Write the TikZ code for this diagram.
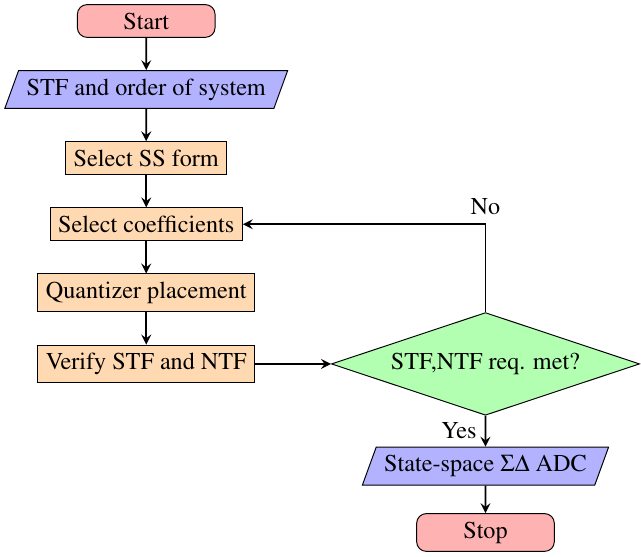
\documentclass[tikz,border=0pt]{standalone}
\usepackage[T1]{fontenc}
\usepackage{mathptmx}
\usepackage{tikz}
\usetikzlibrary{arrows, shapes, shapes.geometric, positioning, calc}

\begin{document}
\begin{tikzpicture}[>=stealth, node distance=0.47cm,
    startstop/.style={rectangle, rounded corners, minimum width=2cm, draw=black, fill=red!30},
    io/.style={trapezium, trapezium left angle=70, trapezium right angle=110, draw=black, fill=blue!30},
    process/.style={rectangle, draw=black, fill=orange!30},
    decision/.style={diamond, aspect=3, inner sep=2.8pt, draw=black, fill=green!30},
    arrow/.style={thick, ->}]
\node (start) [startstop] {Start};
\node (order) [io, below=of start] {STF and order of system};
\node (ssform) [process, below=of order] {Select SS form};
\node (coeff) [process, below=of ssform] {Select coefficients};
\node (quant) [process, below=of coeff] {Quantizer placement};
\node (verify) [process, below=of quant] {Verify STF and NTF};
\node (reqmet) [decision, right=1.1cm of verify] {STF,NTF req. met?};
\node (adc) [io, below=0.45cm of reqmet] {State-space $\Sigma\Delta$ ADC};
\node (stop) [startstop, below=0.4cm of adc] {Stop};

\draw [arrow] (start) -- (order);
\draw [arrow] (order) -- (ssform);
\draw [arrow] (ssform) -- (coeff);
\draw [arrow] (coeff) -- (quant);
\draw [arrow] (quant) -- (verify);
\draw [arrow] (verify) -- (reqmet);
\draw [arrow] (reqmet.north) |- node[above] {No} (coeff.east);
\draw [arrow] (reqmet) -- node[left] {Yes} (adc);
\draw [arrow] (adc) -- (stop);

% margins
\path ([xshift=-1.7pt]order.bottom left corner) ([yshift=1.7pt]start.north) ([yshift=-2pt]stop.south) ([xshift=0.4pt]reqmet.east);
\end{tikzpicture}
\end{document}
